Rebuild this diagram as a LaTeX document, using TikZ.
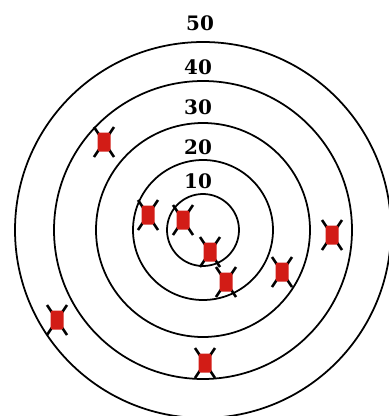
\documentclass[tikz,border=0pt]{standalone}
\usepackage{fontspec}
\newfontfamily\scorefont{DejaVu Serif}
\usepackage{xcolor}
\usepackage{tikz}
\definecolor{hitred}{RGB}{210,28,22}

\begin{document}
\begin{tikzpicture}[x=0.03cm, y=-0.03cm]
    % Definición de estilos
    \tikzstyle{ring}=[line width=1.5pt, black]
    \tikzstyle{score}=[font=\scorefont\bfseries\fontsize{17}{17}\selectfont, inner sep=0pt]
    \tikzset{hit/.pic={
        \draw[line width=2.2pt, black] (-10,-15) -- (10,15);
        \draw[line width=2.2pt, black] (-10,15) -- (10,-15);
        \fill[hitred, rounded corners=2pt] (-6.5,-9.5) rectangle (6.5,9.5);
    }}
    % Marco del dibujo
    \useasboundingbox (0,0) rectangle (389,416);
    \clip (0,0) rectangle (389,416);
    % Centro de la diana
    \coordinate (C) at (203,230);
    % Anillos concéntricos
    \foreach \r in {36,70,107,149,188}
        \draw[ring] (C) circle (\r);
    % Puntuaciones de cada anillo
    \node[score] (s50) at (200,23) {50};
    \node[score] (s40) at (198,67) {40};
    \node[score] (s30) at (198,107) {30};
    \node[score] (s20) at (198,147) {20};
    \node[score] (s10) at (198,181) {10};
    % Impactos de los disparos
    \foreach \px/\py in {104/142, 148/215, 183/220, 210/252, 226/282,
                         282/272, 332/235, 57/320, 205/363}
        \pic at (\px,\py) {hit};
\end{tikzpicture}
\end{document}
